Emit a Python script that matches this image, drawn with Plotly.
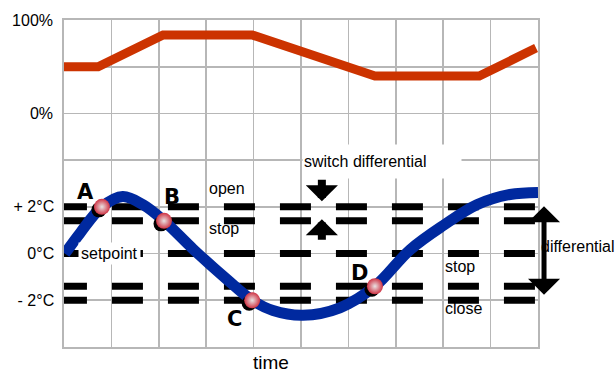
import plotly.graph_objects as go

# ---------------- data ----------------
# time axis: 10 grid columns (0..10)
valve_time = [0.0, 0.72, 2.09, 3.97, 6.56, 8.76, 9.96]
valve_pct = [50, 50, 84, 84, 40, 40, 70]

temp_time = [0.02, 0.34, 0.80, 1.24, 1.67, 2.11, 2.72, 3.44, 3.97, 4.41,
             5.04, 5.82, 6.56, 7.30, 8.00, 8.71, 9.41, 10.0]
temp_c = [0.0, 0.88, 2.0, 2.44, 2.09, 1.40, 0.20, -1.11, -2.0, -2.44,
          -2.64, -2.32, -1.40, 0.16, 1.20, 2.09, 2.53, 2.62]

point_labels = ["A", "B", "C", "D"]
point_time = [0.80, 2.11, 3.97, 6.56]
point_temp = [2.0, 1.40, -2.0, -1.40]

# switching levels: open, stop, setpoint, stop, close
switch_levels = [2.0, 1.40, 0.0, -1.40, -2.0]

temp_ticks = [-4, -2, 0, 2, 4, 6, 8, 10]
temp_ticktext = ["", "- 2°C", "0°C", "+ 2°C", "", "", "", ""]
pct_ticks = [0, 100]
pct_ticktext = ["0%", "100%"]

# ---------------- style ----------------
FONT = "Liberation Sans, Arial, sans-serif"
GRID = "#b7b7b7"
RED = "#cc3300"
BLUE = "#00299f"
PX_X = 474 / 10.0      # pixels per time unit
PX_Y = 330 / 14.0      # pixels per degree

fig = go.Figure()

# dashed switching lines
for lvl in switch_levels:
    fig.add_trace(go.Scatter(
        x=[-0.17, 10.2], y=[lvl, lvl], mode="lines",
        line=dict(color="black", width=7, dash="31px,25px"),
        hoverinfo="skip", showlegend=False))

# temperature curve
fig.add_trace(go.Scatter(
    x=temp_time, y=temp_c, mode="lines",
    line=dict(color=BLUE, width=11, shape="spline", smoothing=1.0),
    showlegend=False))

# ball shadows
fig.add_trace(go.Scatter(
    x=[t - 3 / PX_X for t in point_time],
    y=[v - 3 / PX_Y for v in point_temp],
    mode="markers", marker=dict(size=15, color="black", line=dict(width=0)),
    hoverinfo="skip", showlegend=False))
# balls
fig.add_trace(go.Scatter(
    x=point_time, y=point_temp, mode="markers",
    marker=dict(size=16, color="#cf3344", line=dict(width=0),
                gradient=dict(type="radial", color="#e9e3e3")),
    showlegend=False))

# valve position (top panel, second y axis)
fig.add_trace(go.Scatter(
    x=valve_time, y=valve_pct, mode="lines", yaxis="y2",
    line=dict(color=RED, width=9), showlegend=False))

ann = []
# point letters
letter_off = [(-16, 15), (8, 24), (-18, -19), (-15, 13)]
for lab, t, v, (dx, dy) in zip(point_labels, point_time, point_temp, letter_off):
    ann.append(dict(x=t, y=v, xref="x", yref="y", text=lab, showarrow=False,
                    xshift=dx, yshift=dy,
                    font=dict(family="DejaVu Sans, sans-serif", size=21,
                              color="black", weight="bold")))

txt = dict(family=FONT, size=16, color="black")
ann += [
    dict(x=3.02, y=2.79, xref="x", yref="y", text="open", showarrow=False,
         xanchor="left", font=txt),
    dict(x=3.02, y=1.09, xref="x", yref="y", text="stop", showarrow=False,
         xanchor="left", font=txt),
    dict(x=0.30, y=0.0, xref="x", yref="y", text="setpoint", showarrow=False,
         xanchor="left", font=txt, bgcolor="white", borderpad=2),
    dict(x=8.0, y=-0.56, xref="x", yref="y", text="stop", showarrow=False,
         xanchor="left", font=txt),
    dict(x=8.0, y=-2.35, xref="x", yref="y", text="close", showarrow=False,
         xanchor="left", font=txt),
    dict(x=5.02, y=3.955, xref="x", yref="y", text="switch differential",
         showarrow=False, xanchor="left", align="left", width=156, height=31,
         borderpad=1, bgcolor="white", font=txt),
    dict(x=1.0015, y=0.285, xref="paper", yref="y", text="differential",
         showarrow=False, xanchor="left", yanchor="middle", font=txt),
    dict(x=0.437, y=-0.0485, xref="paper", yref="paper", text="time",
         showarrow=False, yanchor="middle",
         font=dict(family=FONT, size=19, color="black")),
    # differential double arrow
    dict(x=1.0127, y=2.024, xref="paper", yref="y", text="", showarrow=True,
         ax=0, ay=90, arrowside="end+start", arrowhead=1, startarrowhead=1,
         arrowwidth=5, arrowsize=1.07, startarrowsize=1.07, arrowcolor="black"),
    # switch differential arrows
    dict(x=5.44, y=2.236, xref="x", yref="y", text="", showarrow=True,
         ax=0, ay=-23, arrowhead=1, arrowwidth=8, arrowsize=0.67,
         arrowcolor="black"),
    dict(x=5.44, y=1.473, xref="x", yref="y", text="", showarrow=True,
         ax=0, ay=22, arrowhead=1, arrowwidth=8, arrowsize=0.67,
         arrowcolor="black"),
]

fig.update_layout(
    width=616, height=374,
    margin=dict(l=64, r=78, t=17, b=27),
    paper_bgcolor="white", plot_bgcolor="white",
    font=dict(family=FONT, size=16, color="black"),
    xaxis=dict(range=[0, 10], dtick=1, showticklabels=False, ticks="",
               showgrid=True, gridcolor=GRID, gridwidth=1.6, zeroline=False,
               showline=True, linecolor=GRID, linewidth=1.6, mirror=True),
    yaxis=dict(range=[-4, 10], tickvals=temp_ticks, ticktext=temp_ticktext,
               ticks="", ticklabelstandoff=5,
               tickfont=dict(family=FONT, size=16, color="black"),
               showgrid=True, gridcolor=GRID, gridwidth=1.6, zeroline=False,
               showline=True, linecolor=GRID, linewidth=1.6, mirror=True),
    yaxis2=dict(range=[-250, 100], overlaying="y", side="left",
                tickvals=pct_ticks, ticktext=pct_ticktext, ticks="",
                ticklabelstandoff=10,
                tickfont=dict(family=FONT, size=16, color="black"),
                showgrid=False, zeroline=False, showline=False),
    annotations=ann,
)

fig.write_html(
    "out.html",
    config={"displayModeBar": False, "staticPlot": True},
    post_script="document.body.style.margin='0';document.body.style.overflow='hidden';",
)
